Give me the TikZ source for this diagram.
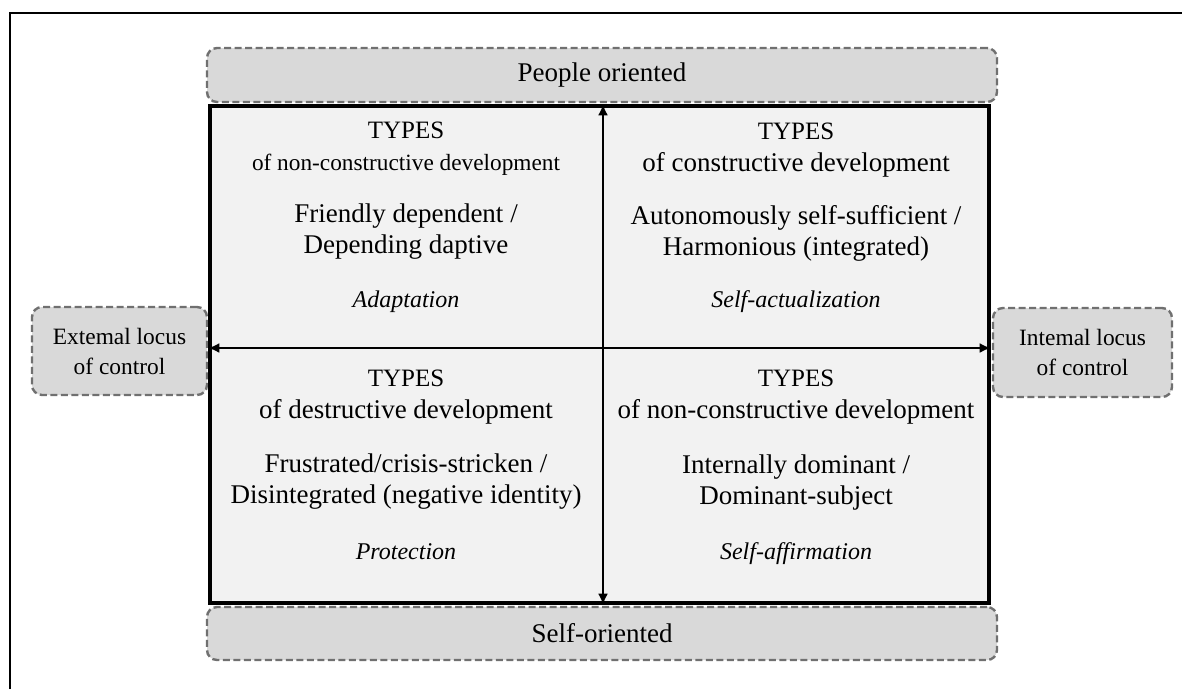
\documentclass[tikz,border=0pt]{standalone}
\usepackage{fontspec}
\setmainfont{Liberation Serif}
\usetikzlibrary{arrows.meta}
\definecolor{boxgray}{HTML}{D9D9D9}
\definecolor{gridgray}{HTML}{F2F2F2}
\definecolor{dashgray}{HTML}{707070}
\begin{document}
\begin{tikzpicture}
    [x=1pt, y=-1pt,
    sidebox/.style={draw=dashgray, fill=boxgray, line width=2.4pt,
      dash pattern=on 7pt off 3.5pt, rounded corners=10pt, inner sep=0pt,
      align=center, font=\fontsize{27}{32}\selectfont},
    locus/.style={sidebox, font=\fontsize{23.4}{30}\selectfont},
    quad/.style={align=center, inner sep=0pt, font=\fontsize{27}{31}\selectfont},
    head/.style={quad, font=\fontsize{27}{32}\selectfont},
    mode/.style={anchor=base, inner sep=0pt, font=\fontsize{24}{28}\selectfont\itshape},
    axis/.style={line width=2.8pt,
      {Latex[length=11pt,width=10pt]}-{Latex[length=11pt,width=10pt]}}]
    \useasboundingbox (0,0) rectangle (1182,689);
    \draw[line width=2.6pt] (10,689) -- (10,13) -- (1182,13);
    % orientation boxes
    \node[sidebox, minimum width=790pt, minimum height=54pt] (people) at (602,75) {People oriented};
    \node[sidebox, minimum width=790pt, minimum height=53pt] (self) at (602,633.5) {Self-oriented};
    \node[locus, minimum width=175pt, minimum height=88pt] (external) at (119.5,351) {Extemal locus\\of control};
    \node[locus, minimum width=179pt, minimum height=89pt] (internal) at (1082.5,352.5) {Intemal locus\\of control};
    % the four quadrants
    \node[draw, line width=3.4pt, fill=gridgray, minimum width=779pt, minimum height=497pt,
      inner sep=0pt] (grid) at (599.5,354.5) {};
    \coordinate (cross) at (603,348);
    \draw[axis] (cross -| grid.west) -- (cross -| grid.east);
    \draw[axis] (cross |- grid.north) -- (cross |- grid.south);
    \node[head] (nwhead) at (406,149)
      {{\fontsize{25}{32}\selectfont TYPES}\\{\fontsize{23.3}{32}\selectfont of non-constructive development}};
    \node[quad] (nwtype) at (406,232) {Friendly dependent /\\Depending daptive};
    \node[mode] (nwmode) at (406,307) {Adaptation};
    \node[head] (nehead) at (796,150)
      {{\fontsize{25}{32}\selectfont TYPES}\\of constructive development};
    \node[quad] (netype) at (796,233) {Autonomously self-sufficient /\\Harmonious (integrated)};
    \node[mode] (nemode) at (796,307) {Self-actualization};
    \node[head] (swhead) at (406,397)
      {{\fontsize{25}{32}\selectfont TYPES}\\of destructive development};
    \node[quad] (swtype) at (406,482) {Frustrated/crisis-stricken /\\Disintegrated (negative identity)};
    \node[mode] (swmode) at (406,559) {Protection};
    \node[head] (sehead) at (796,397)
      {{\fontsize{25}{32}\selectfont TYPES}\\of non-constructive development};
    \node[quad] (setype) at (796,482) {Internally dominant /\\Dominant-subject};
    \node[mode] (semode) at (796,559) {Self-affirmation};
\end{tikzpicture}
\end{document}
